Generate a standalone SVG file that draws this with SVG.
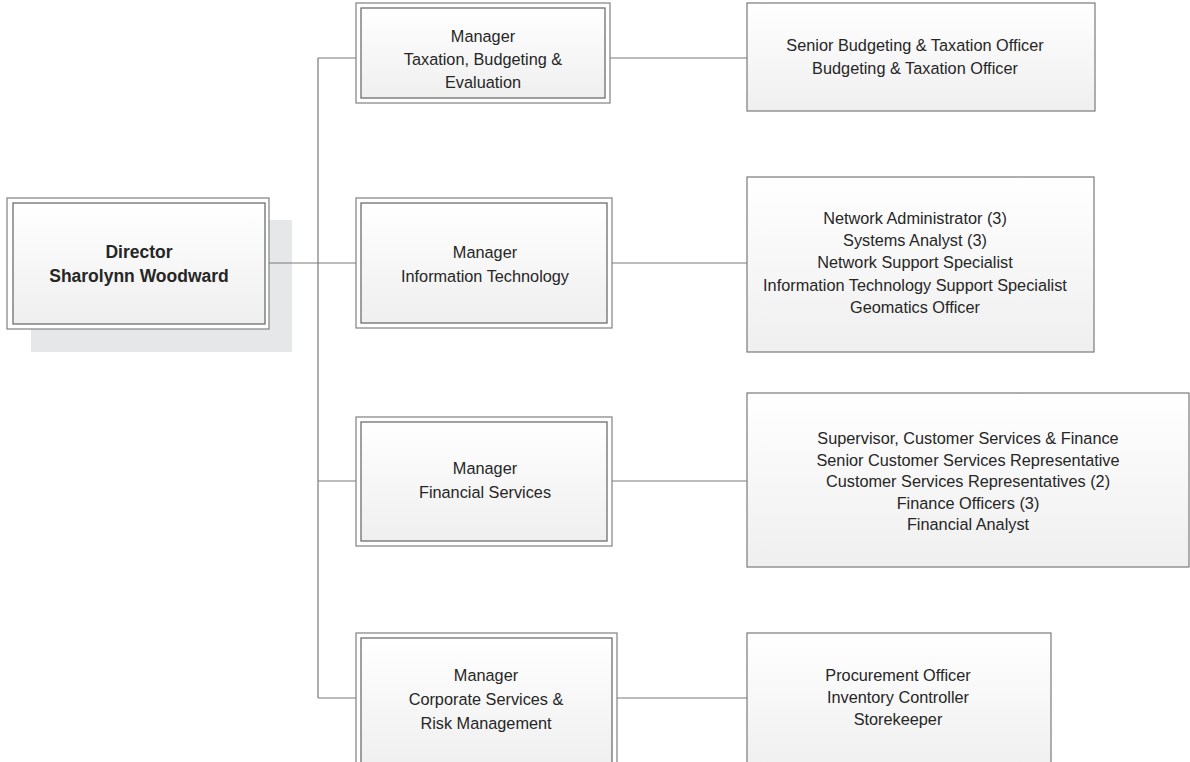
<svg xmlns="http://www.w3.org/2000/svg" width="1190" height="762" viewBox="0 0 1190 762">
<defs>
<linearGradient id="g" x1="0" y1="0" x2="0" y2="1">
<stop offset="0" stop-color="#ffffff"/>
<stop offset="1" stop-color="#efefef"/>
</linearGradient>
<style>
.outer{fill:#ffffff;stroke:#8a8a8a;stroke-width:1.3}
.inner{fill:url(#g);stroke:#6e6e6e;stroke-width:1.3}
.box{fill:url(#g);stroke:#7a7a7a;stroke-width:1.2}
.shadow{fill:#e6e7e9}
.t{font-family:"Liberation Sans",Arial,sans-serif;font-size:16.3px;fill:#262626;text-anchor:middle}
.b{font-weight:bold;font-size:17.5px}
.c{stroke:#7a7a7a;stroke-width:1.2;fill:none}
</style>
</defs>
<rect width="1190" height="762" fill="#ffffff"/>
<g id="director">
<rect class="shadow" x="31" y="220" width="261" height="132"/>
<rect class="outer" x="7" y="198" width="262" height="131"/>
<rect class="inner" x="13" y="203" width="252" height="121"/>
<text class="t b" x="139" y="258">Director</text>
<text class="t b" x="139" y="282">Sharolynn Woodward</text>
</g>
<g id="mgr-tax">
<rect class="outer" x="356" y="3" width="254" height="100"/>
<rect class="inner" x="361" y="8" width="244" height="90"/>
<text class="t" x="483" y="42">Manager</text>
<text class="t" x="483" y="65">Taxation, Budgeting &amp;</text>
<text class="t" x="483" y="88">Evaluation</text>
</g>
<g id="staff-tax">
<rect class="box" x="747" y="3" width="348" height="108"/>
<text class="t" x="915" y="51">Senior Budgeting &amp; Taxation Officer</text>
<text class="t" x="915" y="74">Budgeting &amp; Taxation Officer</text>
</g>
<g id="mgr-it">
<rect class="outer" x="356" y="198" width="256" height="130"/>
<rect class="inner" x="361" y="203" width="246" height="120"/>
<text class="t" x="485" y="258">Manager</text>
<text class="t" x="485" y="282">Information Technology</text>
</g>
<g id="staff-it">
<rect class="box" x="747" y="177" width="347" height="175"/>
<text class="t" x="915" y="224">Network Administrator (3)</text>
<text class="t" x="915" y="246">Systems Analyst (3)</text>
<text class="t" x="915" y="268">Network Support Specialist</text>
<text class="t" x="915" y="291">Information Technology Support Specialist</text>
<text class="t" x="915" y="313">Geomatics Officer</text>
</g>
<g id="mgr-fin">
<rect class="outer" x="356" y="417" width="256" height="129"/>
<rect class="inner" x="361" y="422" width="246" height="119"/>
<text class="t" x="485" y="474">Manager</text>
<text class="t" x="485" y="498">Financial Services</text>
</g>
<g id="staff-fin">
<rect class="box" x="747" y="393" width="442" height="174"/>
<text class="t" x="968" y="444">Supervisor, Customer Services &amp; Finance</text>
<text class="t" x="968" y="466">Senior Customer Services Representative</text>
<text class="t" x="968" y="487">Customer Services Representatives (2)</text>
<text class="t" x="968" y="509">Finance Officers (3)</text>
<text class="t" x="968" y="530">Financial Analyst</text>
</g>
<g id="mgr-corp">
<rect class="outer" x="356" y="633" width="261" height="140"/>
<rect class="inner" x="361" y="638" width="251" height="130"/>
<text class="t" x="486" y="681">Manager</text>
<text class="t" x="486" y="705">Corporate Services &amp;</text>
<text class="t" x="486" y="729">Risk Management</text>
</g>
<g id="staff-corp">
<rect class="box" x="747" y="633" width="304" height="140"/>
<text class="t" x="898" y="681">Procurement Officer</text>
<text class="t" x="898" y="703">Inventory Controller</text>
<text class="t" x="898" y="725">Storekeeper</text>
</g>
<g id="connectors">
<path class="c" d="M269 263H356M318 58V698M318 58H356M318 481H356M318 698H356"/>
<path class="c" d="M610 58H747M612 263H747M612 481H747M617 698H747"/>
</g>
</svg>
